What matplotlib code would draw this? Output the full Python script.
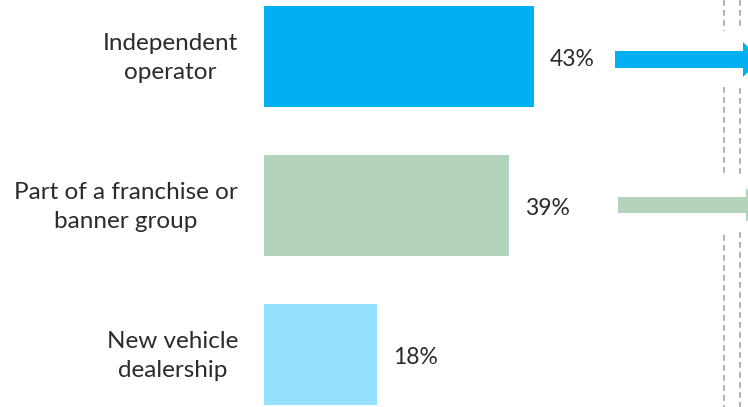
import matplotlib
matplotlib.use("Agg")
import matplotlib.pyplot as plt
from matplotlib.patches import Polygon

categories = ["Independent\noperator", "Part of a franchise or\nbanner group", "New vehicle\ndealership"]
values = [43, 39, 18]
value_labels = ["43%", "39%", "18%"]
colors = ["#00B0F0", "#B3D3BD", "#93E1FF"]

W, H = 748, 407
fig = plt.figure(figsize=(W / 100, H / 100), dpi=100)
fig.patch.set_facecolor("white")

FONT = ["Lato", "DejaVu Sans"]
TEXT_COLOR = "#2B2B2B"

# main bar axes spans the whole figure; 0% sits at x=264 px, 6.28 px per percent
px_per_pct = 6.28
x0_px = 264
ax = fig.add_axes([0, 0, 1, 1])
ax.set_xlim(-x0_px / px_per_pct, (W - x0_px) / px_per_pct)
row_px = 149
top_px = 56.5
ax.set_ylim((H - top_px) / row_px, -top_px / row_px)
ax.axis("off")

ypos = list(range(len(categories)))
ax.barh(ypos, values, height=0.68, color=colors, zorder=2)

for y, v, lab in zip(ypos, values, value_labels):
    ax.text(v + 2.5, y + 0.02, lab, ha="left", va="center", fontsize=16.5,
            family=FONT, color=TEXT_COLOR)

for y, cat in zip(ypos, categories):
    ax.text(-26 / px_per_pct, y + 0.01, cat, ha="right", va="center",
            multialignment="center", fontsize=17.5, family=FONT,
            color=TEXT_COLOR, linespacing=1.5)

# decorations in pixel space: dashed guides and arrows on the right
deco = fig.add_axes([0, 0, 1, 1], zorder=3)
deco.set_xlim(0, W)
deco.set_ylim(H, 0)
deco.axis("off")

dash_color = "#A6A6A6"
for x, segs in [(724, [(0, 31), (87, 175), (235, 407)]),
                (740, [(0, 28), (88, 177), (232, 407)])]:
    for a, b in segs:
        deco.plot([x, x], [a, b], color=dash_color, lw=1.2,
                  linestyle=(0, (3.5, 2.5)), solid_capstyle="butt")

def arrow(x_start, x_head, yc, shaft_h, head_h, head_len, color):
    pts = [(x_start, yc - shaft_h / 2), (x_head, yc - shaft_h / 2),
           (x_head, yc - head_h / 2), (x_head + head_len, yc),
           (x_head, yc + head_h / 2), (x_head, yc + shaft_h / 2),
           (x_start, yc + shaft_h / 2)]
    deco.add_patch(Polygon(pts, closed=True, facecolor=color,
                           edgecolor="none", clip_on=True))

arrow(615, 743, 59.5, 17, 35, 18, colors[0])
arrow(618, 746, 205, 16, 34, 17, colors[1])

fig.savefig("out.png", dpi=100, facecolor="white")
